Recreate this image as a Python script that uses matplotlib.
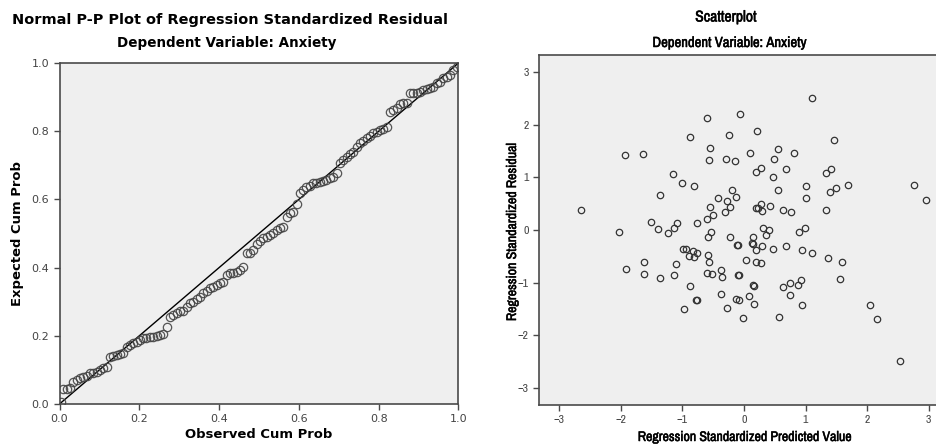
import matplotlib
matplotlib.use("Agg")
import matplotlib.pyplot as plt
from matplotlib import font_manager
import matplotlib.patheffects as pe

# P-P plot: observed vs expected cumulative probability
observed = [0.004, 0.010, 0.018, 0.026, 0.035, 0.043, 0.051, 0.060, 0.068, 0.076,
            0.085, 0.093, 0.101, 0.110, 0.118, 0.127, 0.135, 0.143, 0.152, 0.160,
            0.168, 0.177, 0.185, 0.193, 0.202, 0.210, 0.218, 0.227, 0.235, 0.244,
            0.252, 0.260, 0.269, 0.277, 0.285, 0.294, 0.302, 0.310, 0.319, 0.327,
            0.335, 0.344, 0.352, 0.360, 0.369, 0.377, 0.385, 0.394, 0.402, 0.410,
            0.419, 0.427, 0.436, 0.444, 0.452, 0.460, 0.469, 0.477, 0.486, 0.494,
            0.502, 0.511, 0.519, 0.528, 0.536, 0.544, 0.553, 0.561, 0.569, 0.577,
            0.585, 0.594, 0.602, 0.611, 0.619, 0.627, 0.636, 0.644, 0.652, 0.661,
            0.669, 0.677, 0.686, 0.695, 0.703, 0.711, 0.720, 0.728, 0.736, 0.745,
            0.753, 0.761, 0.770, 0.778, 0.786, 0.795, 0.803, 0.811, 0.820, 0.828,
            0.837, 0.845, 0.853, 0.862, 0.870, 0.878, 0.887, 0.895, 0.904, 0.912,
            0.920, 0.929, 0.937, 0.945, 0.954, 0.962, 0.970, 0.979, 0.987, 0.995]
expected = [0.005, 0.044, 0.044, 0.048, 0.064, 0.070, 0.077, 0.080, 0.082, 0.090,
            0.092, 0.094, 0.100, 0.106, 0.109, 0.137, 0.141, 0.144, 0.146, 0.150,
            0.168, 0.173, 0.178, 0.183, 0.188, 0.193, 0.193, 0.196, 0.197, 0.199,
            0.202, 0.205, 0.225, 0.254, 0.261, 0.268, 0.273, 0.274, 0.285, 0.295,
            0.300, 0.307, 0.313, 0.325, 0.332, 0.339, 0.344, 0.349, 0.354, 0.359,
            0.378, 0.383, 0.385, 0.388, 0.393, 0.401, 0.442, 0.444, 0.452, 0.470,
            0.478, 0.486, 0.491, 0.496, 0.502, 0.510, 0.515, 0.520, 0.549, 0.559,
            0.564, 0.587, 0.618, 0.628, 0.636, 0.639, 0.647, 0.649, 0.652, 0.654,
            0.657, 0.662, 0.667, 0.676, 0.706, 0.716, 0.725, 0.733, 0.740, 0.755,
            0.765, 0.772, 0.779, 0.786, 0.794, 0.799, 0.804, 0.806, 0.813, 0.857,
            0.862, 0.867, 0.880, 0.882, 0.884, 0.911, 0.911, 0.913, 0.916, 0.921,
            0.923, 0.926, 0.931, 0.940, 0.945, 0.955, 0.960, 0.965, 0.979, 0.987]

# scatterplot: standardized predicted value vs standardized residual
pred = [-0.60, -0.06, -0.88, -0.25, -1.93, -1.64, -0.56, -0.57, -0.29, -0.15,
        0.10, -1.15, -1.00, -0.82, -1.37, -0.19, -0.13, -0.43, -0.28, -2.64,
        -0.55, -0.22, -0.31, -0.50, -0.60, -0.76, -1.51, -1.09, -1.13, -1.40,
        -1.23, -2.03, -0.53, -0.58, -0.23, -0.99, -0.94, -0.83, -0.76, -0.89,
        -0.82, -0.59, -0.57, -1.62, -1.11, -1.91, -1.62, -1.14, -1.37, -0.60,
        -0.52, -0.38, -0.87, -0.78, -0.76, -0.97, -0.38, 1.10, 0.21, 1.47,
        0.56, 0.82, 0.49, 0.28, 0.19, 0.68, 0.47, 1.42, 1.34, 0.56,
        1.01, 1.01, 1.50, 1.40, 1.69, 2.76, 2.95, 0.28, 0.22, 0.20,
        0.29, 0.42, 0.63, 0.77, 1.33, 0.31, 0.41, 0.36, 0.15, 0.90,
        0.99, -0.12, -0.10, 0.13, 0.14, 0.29, 0.20, 0.47, 0.68, 0.94,
        1.10, 1.37, 1.60, 0.04, 0.20, 0.28, -0.35, -0.09, -0.08, 0.15,
        0.16, 0.63, 0.74, 0.88, 0.92, 1.56, -0.13, -0.08, 0.08, 0.16,
        -0.28, -0.01, 0.74, 0.94, 0.57, 2.04, 2.16, 2.53]
resid = [2.14, 2.20, 1.77, 1.80, 1.42, 1.44, 1.56, 1.33, 1.36, 1.31,
         1.47, 1.07, 0.90, 0.84, 0.67, 0.76, 0.63, 0.61, 0.56, 0.39,
         0.43, 0.43, 0.34, 0.29, 0.21, 0.14, 0.15, 0.13, 0.03, 0.01,
         -0.05, -0.03, -0.04, -0.13, -0.13, -0.36, -0.37, -0.40, -0.43, -0.50,
         -0.52, -0.48, -0.60, -0.61, -0.65, -0.74, -0.83, -0.86, -0.91, -0.81,
         -0.84, -0.77, -1.07, -1.33, -1.33, -1.50, -1.22, 2.52, 1.89, 1.71,
         1.55, 1.47, 1.35, 1.18, 1.10, 1.17, 1.01, 1.17, 1.08, 0.76,
         0.84, 0.61, 0.80, 0.72, 0.85, 0.85, 0.57, 0.50, 0.41, 0.41,
         0.37, 0.46, 0.39, 0.34, 0.39, 0.04, 0.00, -0.10, -0.13, -0.04,
         0.04, -0.29, -0.29, -0.25, -0.26, -0.30, -0.39, -0.36, -0.31, -0.39,
         -0.44, -0.53, -0.60, -0.57, -0.61, -0.63, -0.90, -0.86, -0.86, -1.05,
         -1.06, -1.09, -1.01, -1.05, -0.95, -0.93, -1.31, -1.33, -1.26, -1.40,
         -1.49, -1.68, -1.24, -1.42, -1.65, -1.42, -1.69, -2.49]

pp_ticks = [0.0, 0.2, 0.4, 0.6, 0.8, 1.0]
sc_ticks = [-3, -2, -1, 0, 1, 2, 3]

# look for a condensed face for the SPSS-like right panel
narrow = {"family": "DejaVu Sans"}
for f in font_manager.fontManager.ttflist:
    if "Condensed" in f.name or "Narrow" in f.name:
        narrow = {"family": f.name}
        break
else:
    for f in font_manager.fontManager.ttflist:
        if f.stretch in ("condensed", "semi-condensed", 87.5, 75) or "ondensed" in f.fname:
            narrow = {"family": f.name, "stretch": "condensed"}
            break

# the condensed face may come without a bold cut, so thicken it a little
heavy = [pe.withStroke(linewidth=0.35, foreground="black")]

bg = "#efefef"
spine_c = "#4a4a4a"

fig = plt.figure(figsize=(9.37, 4.46), dpi=100)

# ---- left: P-P plot
ax1 = fig.add_axes([59.5 / 937, 42 / 446, 399 / 937, 341 / 446])
ax1.set_facecolor(bg)
ax1.plot([0, 1], [0, 1], color="black", lw=1.0, zorder=2)
ax1.plot(observed, expected, linestyle="none", marker="o", markersize=6,
         markerfacecolor="none", markeredgecolor="#444444", markeredgewidth=0.9,
         alpha=0.9, zorder=3)
ax1.set_xlim(0, 1)
ax1.set_ylim(0, 1)
ax1.set_xticks(pp_ticks)
ax1.set_yticks(pp_ticks)
ax1.set_xticklabels(["%.1f" % t for t in pp_ticks])
ax1.set_yticklabels(["%.1f" % t for t in pp_ticks])
ax1.tick_params(direction="out", length=4, width=1, color=spine_c,
                labelsize=8, labelcolor="#444444")
for s in ax1.spines.values():
    s.set_color(spine_c)
    s.set_linewidth(1.2)

fitted = []  # (text, target size in px along the text)
t = fig.text(230 / 937, 1 - 20 / 446, "Normal P-P Plot of Regression Standardized Residual",
             ha="center", va="center", fontsize=10, fontweight="bold")
fitted.append((t, 434))
t = fig.text(227 / 937, 1 - 43 / 446, "Dependent Variable: Anxiety",
             ha="center", va="center", fontsize=10, fontweight="bold")
fitted.append((t, 219))
t = fig.text(259 / 937, 1 - 434 / 446, "Observed Cum Prob",
             ha="center", va="center", fontsize=9.5, fontweight="bold")
fitted.append((t, 148))
t = fig.text(18 / 937, 1 - 233 / 446, "Expected Cum Prob", rotation=90,
             ha="center", va="center", fontsize=9.5, fontweight="bold")
fitted.append((t, 145))

# ---- right: scatterplot
ax2 = fig.add_axes([539 / 937, 41 / 446, 410 / 937, 350 / 446])
ax2.set_facecolor(bg)
ax2.plot(pred, resid, linestyle="none", marker="o", markersize=4.6,
         markerfacecolor="none", markeredgecolor="#333333", markeredgewidth=0.9)
ax2.set_xlim(-3.33, 3.33)
ax2.set_ylim(-3.33, 3.33)
ax2.set_xticks(sc_ticks)
ax2.set_yticks(sc_ticks)
ax2.tick_params(direction="out", length=4, width=1, color=spine_c,
                labelsize=8, labelcolor="#444444")
for lab in ax2.get_xticklabels() + ax2.get_yticklabels():
    lab.set_fontproperties(font_manager.FontProperties(size=8.5, **narrow))
for s in ax2.spines.values():
    s.set_color(spine_c)
    s.set_linewidth(1.2)

t = fig.text(726 / 937, 1 - 17 / 446, "Scatterplot", path_effects=heavy,
             ha="center", va="center", fontsize=10, fontweight="bold", **narrow)
fitted.append((t, 62))
t = fig.text(730 / 937, 1 - 43 / 446, "Dependent Variable: Anxiety", path_effects=heavy,
             ha="center", va="center", fontsize=10, fontweight="bold", **narrow)
fitted.append((t, 155))
t = fig.text(745 / 937, 1 - 437 / 446, "Regression Standardized Predicted Value",
             path_effects=heavy,
             ha="center", va="center", fontsize=9.5, fontweight="bold", **narrow)
fitted.append((t, 214))
t = fig.text(512 / 937, 1 - 232 / 446, "Regression Standardized Residual",
             path_effects=heavy,
             rotation=90, ha="center", va="center", fontsize=9.5, fontweight="bold",
             **narrow)
fitted.append((t, 178))

# scale each label so it spans about as much as in the original
fig.canvas.draw()
r = fig.canvas.get_renderer()
for txt, target in fitted:
    bb = txt.get_window_extent(r)
    span = bb.height if txt.get_rotation() == 90 else bb.width
    txt.set_fontsize(txt.get_fontsize() * target / span)

fig.savefig("out.png", dpi=100)
